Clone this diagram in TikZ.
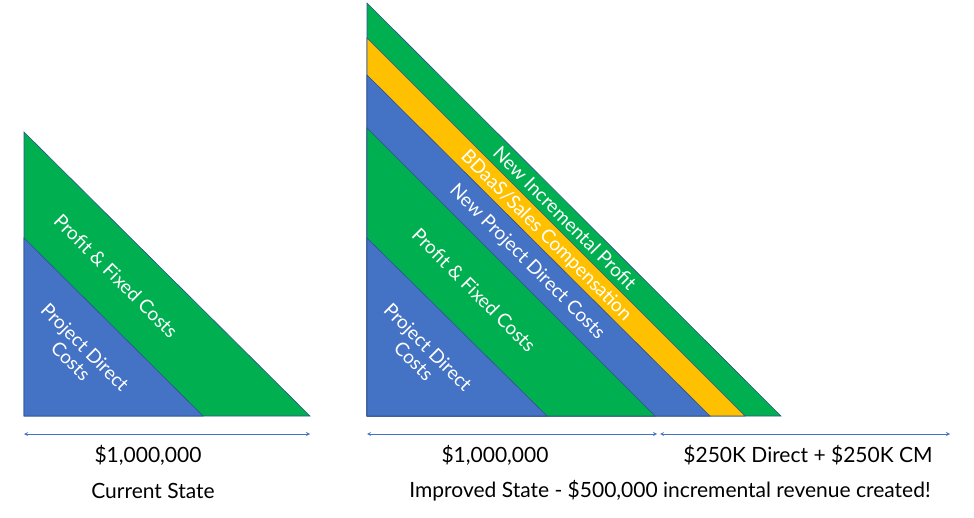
\documentclass[tikz,border=0pt]{standalone}
\usepackage{fontspec}
\setmainfont{Lato}
\definecolor{bl}{HTML}{4472C4}
\definecolor{gr}{HTML}{00B050}
\definecolor{og}{HTML}{FFC000}
\definecolor{ol}{HTML}{2F528F}
\begin{document}
\begin{tikzpicture}[x=1pt,y=-1pt,
  tri/.style={draw=ol,line width=0.6pt},
  lab/.style={text=white,font=\fontsize{19}{20}\selectfont,rotate=-45,align=center,inner sep=0pt},
  dimline/.style={draw=bl,line width=0.8pt,<->,>=stealth},
  captext/.style={font=\fontsize{21}{23}\selectfont}]
\useasboundingbox (0,0) rectangle (974,518);
% left
\fill[gr,tri] (24,132) -- (310,416) -- (24,416) -- cycle;
\fill[bl,tri] (24,238) -- (203,416) -- (24,416) -- cycle;
\node[lab] (l1) at (116,276) {Profit \& Fixed Costs};
\node[lab] (l2) at (78,354) {Project Direct\\Costs};
% right
\fill[gr,tri] (367,3) -- (781,416) -- (367,416) -- cycle;
\fill[og,tri] (367,38) -- (745,416) -- (367,416) -- cycle;
\fill[bl,tri] (367,75) -- (710,416) -- (367,416) -- cycle;
\fill[gr,tri] (367,128) -- (655,416) -- (367,416) -- cycle;
\fill[bl,tri] (367,238) -- (547,416) -- (367,416) -- cycle;
\node[lab] (r1) at (421,354) {Project Direct\\Costs};
\node[lab] (r2) at (474,290) {Profit \& Fixed Costs};
\node[lab] (r3) at (527,262) {New Project Direct Costs};
\node[lab] (r4) at (546,236) {BDaaS/Sales Compensation};
\node[lab] (r5) at (565,218) {New Incremental Profit};
% dims
\coordinate (a1) at (24,434); \coordinate (a2) at (310,434);
\coordinate (b1) at (367,434); \coordinate (b2) at (657,434);
\coordinate (c1) at (660,434); \coordinate (c2) at (950,434);
\draw[dimline] (a1) -- (a2);
\draw[dimline] (b1) -- (b2);
\draw[dimline] (c1) -- (c2);
\node[captext] (t1) at (148,455) {\$1,000,000};
\node[captext] (t2) at (153,491) {Current State};
\node[captext] (t3) at (495,455) {\$1,000,000};
\node[captext] (t4) at (808,455) {\$250K Direct + \$250K CM};
\node[captext] (t5) at (670,491) {Improved State - \$500,000 incremental revenue created!};
\end{tikzpicture}
\end{document}
